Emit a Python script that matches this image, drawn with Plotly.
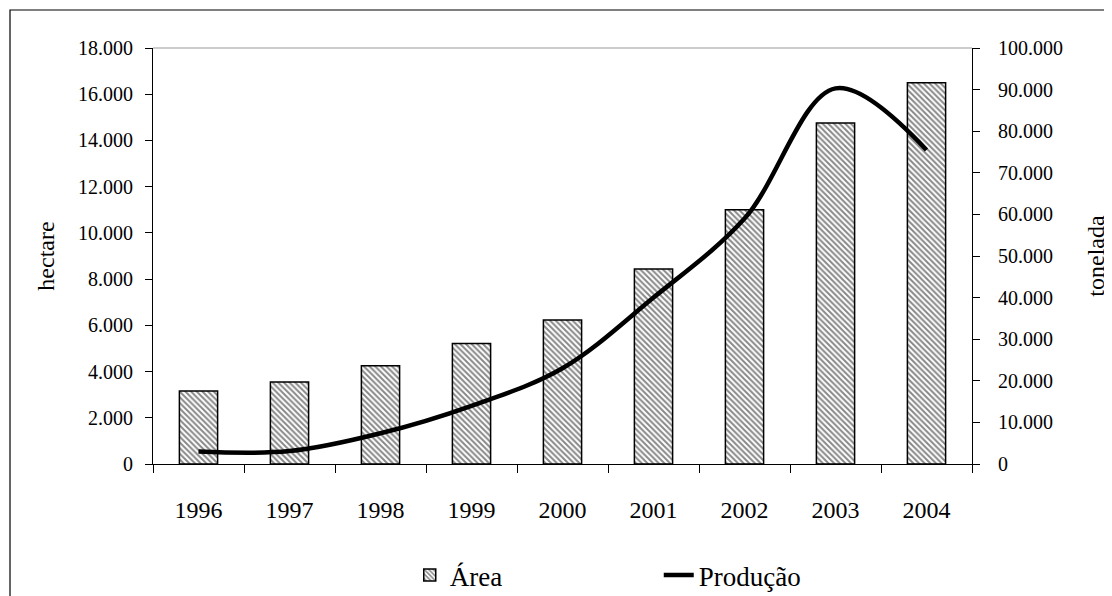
import plotly.graph_objects as go

years = ["1996", "1997", "1998", "1999", "2000", "2001", "2002", "2003", "2004"]
area_ha = [3160, 3550, 4250, 5210, 6230, 8440, 11000, 14760, 16500]
producao_t = [3000, 3100, 7400, 14000, 23000, 40000, 59000, 90300, 75500]

left_ticks = list(range(0, 18001, 2000))
right_ticks = list(range(0, 100001, 10000))

FONT = "Liberation Serif"

fig = go.Figure()
fig.add_trace(go.Bar(
    x=years, y=area_ha, name="Área", width=0.42,
    marker=dict(color="white", line=dict(color="black", width=1.5),
                pattern=dict(shape="\\", size=4, solidity=0.5,
                             fgcolor="#111111", bgcolor="white")),
    xaxis="x", yaxis="y",
))
fig.add_trace(go.Scatter(
    x=years, y=producao_t, name="Produção", mode="lines",
    line=dict(color="black", width=4.5, shape="spline", smoothing=1.0),
    xaxis="x", yaxis="y2",
))

axis_common = dict(showgrid=False, zeroline=False, ticks="outside",
                   tickcolor="black", tickwidth=1, linecolor="black", linewidth=1.2)

fig.update_layout(
    width=1104, height=588,
    margin=dict(l=145, r=140, t=40, b=132, autoexpand=False),
    paper_bgcolor="white", plot_bgcolor="white",
    separators=",.",
    font=dict(family=FONT, color="black"),
    xaxis=dict(type="category", tickson="boundaries", ticklen=8,
               showline=True, tickfont=dict(size=24, family=FONT),
               ticklabelstandoff=24, **axis_common),
    xaxis2=dict(overlaying="x", anchor="y", side="bottom", range=[-0.5, 8.5],
                tickvals=[i - 0.5 for i in range(10)], ticks="inside", ticklen=10,
                tickcolor="black", tickwidth=1, showticklabels=False,
                showline=False, showgrid=False, zeroline=False),
    yaxis=dict(range=[0, 18000], tickvals=left_ticks, tickformat=",d",
               ticklen=7, showline=True, tickfont=dict(size=20, family=FONT),
               ticklabelstandoff=8,
               title=dict(text="hectare", font=dict(size=24, family=FONT), standoff=16),
               **axis_common),
    yaxis2=dict(range=[0, 100000], tickvals=right_ticks, tickformat=",d",
                overlaying="y", side="right", anchor="x",
                ticklen=7, showline=True, tickfont=dict(size=20, family=FONT),
                ticklabelstandoff=14,
                title=dict(text="tonelada", font=dict(size=24, family=FONT), standoff=25),
                **axis_common),
    yaxis3=dict(overlaying="y", side="left", anchor="x", range=[0, 18000],
                tickvals=left_ticks, ticks="inside", ticklen=7, tickcolor="black",
                showticklabels=False, showline=False, showgrid=False, zeroline=False),
    yaxis4=dict(overlaying="y", side="right", anchor="x", range=[0, 100000],
                tickvals=right_ticks, ticks="inside", ticklen=7, tickcolor="black",
                showticklabels=False, showline=False, showgrid=False, zeroline=False),
    showlegend=True,
    legend=dict(orientation="h", x=0.3135, xanchor="left", y=-0.268, yanchor="middle",
                font=dict(size=27, family=FONT), entrywidth=204, entrywidthmode="pixels",
                bgcolor="rgba(0,0,0,0)"),
    shapes=[
        dict(type="line", xref="paper", yref="paper", x0=0, x1=1, y0=1, y1=1,
             line=dict(color="#999999", width=1)),
        dict(type="rect", xref="paper", yref="paper",
             x0=-0.1746, x1=1.2, y0=-0.35, y1=1.0913,
             line=dict(color="black", width=1.2), layer="above"),
    ],
)

fig.write_html("out.html")
